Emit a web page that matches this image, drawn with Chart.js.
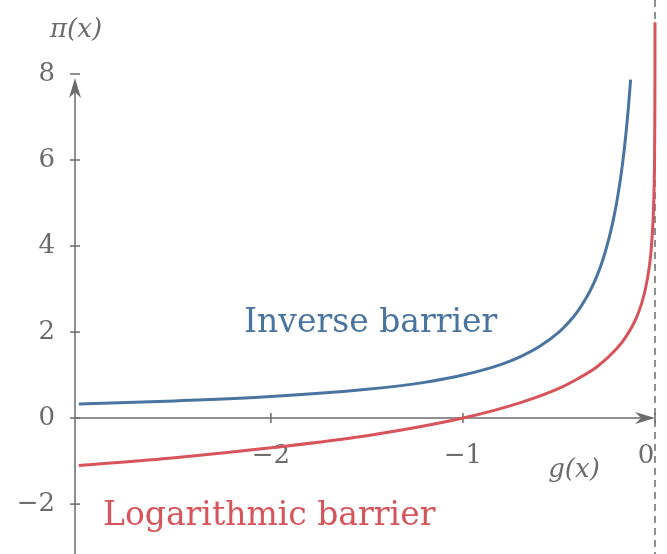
<!DOCTYPE html>
<html><head><meta charset="utf-8">
<script src="https://cdn.jsdelivr.net/npm/chart.js@4"></script>
<style>html,body{margin:0;padding:0;background:#fff}#w{width:667px;height:554px}</style>
</head><body><div id="w"><canvas id="c"></canvas></div>
<script>
const invX=[-3,-2.5,-2,-1.5,-1.2,-1,-0.8,-0.7,-0.6,-0.5,-0.45,-0.4,-0.36,-0.33,-0.3,-0.28,-0.26,-0.24,-0.22,-0.2,-0.185,-0.17,-0.16,-0.15,-0.14,-0.127];
const invY=[0.33,0.4,0.5,0.67,0.83,1,1.25,1.43,1.67,2,2.22,2.5,2.78,3.03,3.33,3.57,3.85,4.17,4.55,5,5.41,5.88,6.25,6.67,7.14,7.87];
const logX=[-3,-2.5,-2,-1.5,-1,-0.7,-0.5,-0.4,-0.3,-0.2,-0.15,-0.1,-0.07,-0.05,-0.03,-0.02,-0.01,-0.006,-0.003,-0.001,-0.0003,-0.0001];
const logY=[-1.1,-0.92,-0.69,-0.41,0,0.36,0.69,0.92,1.2,1.61,1.9,2.3,2.66,3.0,3.51,3.91,4.6,5.12,5.8,6.9,8.1,9.2];
const yTicks=[-2,0,2,4,6,8];
const xTicks=[-2,-1,0];
const GRAY='#6b6b6b', BLUE='#4a74a0', RED='#d6545a', FONT='"DejaVu Serif", "Liberation Serif", serif';
const pts=(xs,ys)=>xs.map((x,i)=>({x,y:ys[i]}));
const lab=v=>v<0?'−'+Math.abs(v):String(v);
const deco={id:'deco',
 beforeDatasetsDraw(ch){const c=ch.ctx,xs=ch.scales.x,ys=ch.scales.y;
  const x0=xs.getPixelForValue(0),y0=ys.getPixelForValue(0),L=ch.chartArea.left;
  c.save();c.strokeStyle=GRAY;c.fillStyle=GRAY;c.lineWidth=1.5;
  c.setLineDash([7,5]);c.beginPath();c.moveTo(x0,0);c.lineTo(x0,554);c.stroke();c.setLineDash([]);
  c.beginPath();c.moveTo(L,554);c.lineTo(L,84);c.stroke();
  c.beginPath();c.moveTo(L,78);c.lineTo(L-6,98);c.lineTo(L,92);c.lineTo(L+6,98);c.closePath();c.fill();
  c.beginPath();c.moveTo(L,y0);c.lineTo(x0-4,y0);c.stroke();
  c.beginPath();c.moveTo(x0,y0);c.lineTo(x0-20,y0-6);c.lineTo(x0-14,y0);c.lineTo(x0-20,y0+6);c.closePath();c.fill();
  c.font='26px '+FONT;c.textBaseline='middle';c.textAlign='right';
  yTicks.forEach(v=>{const p=ys.getPixelForValue(v);c.beginPath();c.moveTo(L-5,p);c.lineTo(L+5,p);c.stroke();c.fillText(lab(v),55,p);});
  c.textAlign='center';
  xTicks.forEach(v=>{const p=xs.getPixelForValue(v);c.beginPath();c.moveTo(p,y0-5);c.lineTo(p,y0+5);c.stroke();
   c.fillText(lab(v),v===0?p-9:p,y0+38);});
  c.font='italic 26px '+FONT;c.fillText('π(x)',76,30);c.fillText('g(x)',574,470);
  c.font='33px '+FONT;c.textAlign='left';c.fillStyle=BLUE;c.fillText('Inverse barrier',244,323);
  c.fillStyle=RED;c.fillText('Logarithmic barrier',103,516);
  c.restore();}};
new Chart(document.getElementById('c'),{type:'scatter',
 data:{datasets:[
  {data:pts(invX,invY),showLine:true,borderColor:BLUE,borderWidth:3,pointRadius:0,cubicInterpolationMode:'monotone'},
  {data:pts(logX,logY),showLine:true,borderColor:RED,borderWidth:3,pointRadius:0,cubicInterpolationMode:'monotone'}]},
 options:{responsive:true,maintainAspectRatio:false,animation:false,layout:{padding:{left:75,right:7,top:0,bottom:0}},
  plugins:{legend:{display:false},tooltip:{enabled:false}},
  scales:{x:{type:'linear',min:-3.02,max:0.026,display:false},
   y:{type:'linear',min:-3.16,max:9.72,display:false}}},
 plugins:[deco]});
</script></body></html>
